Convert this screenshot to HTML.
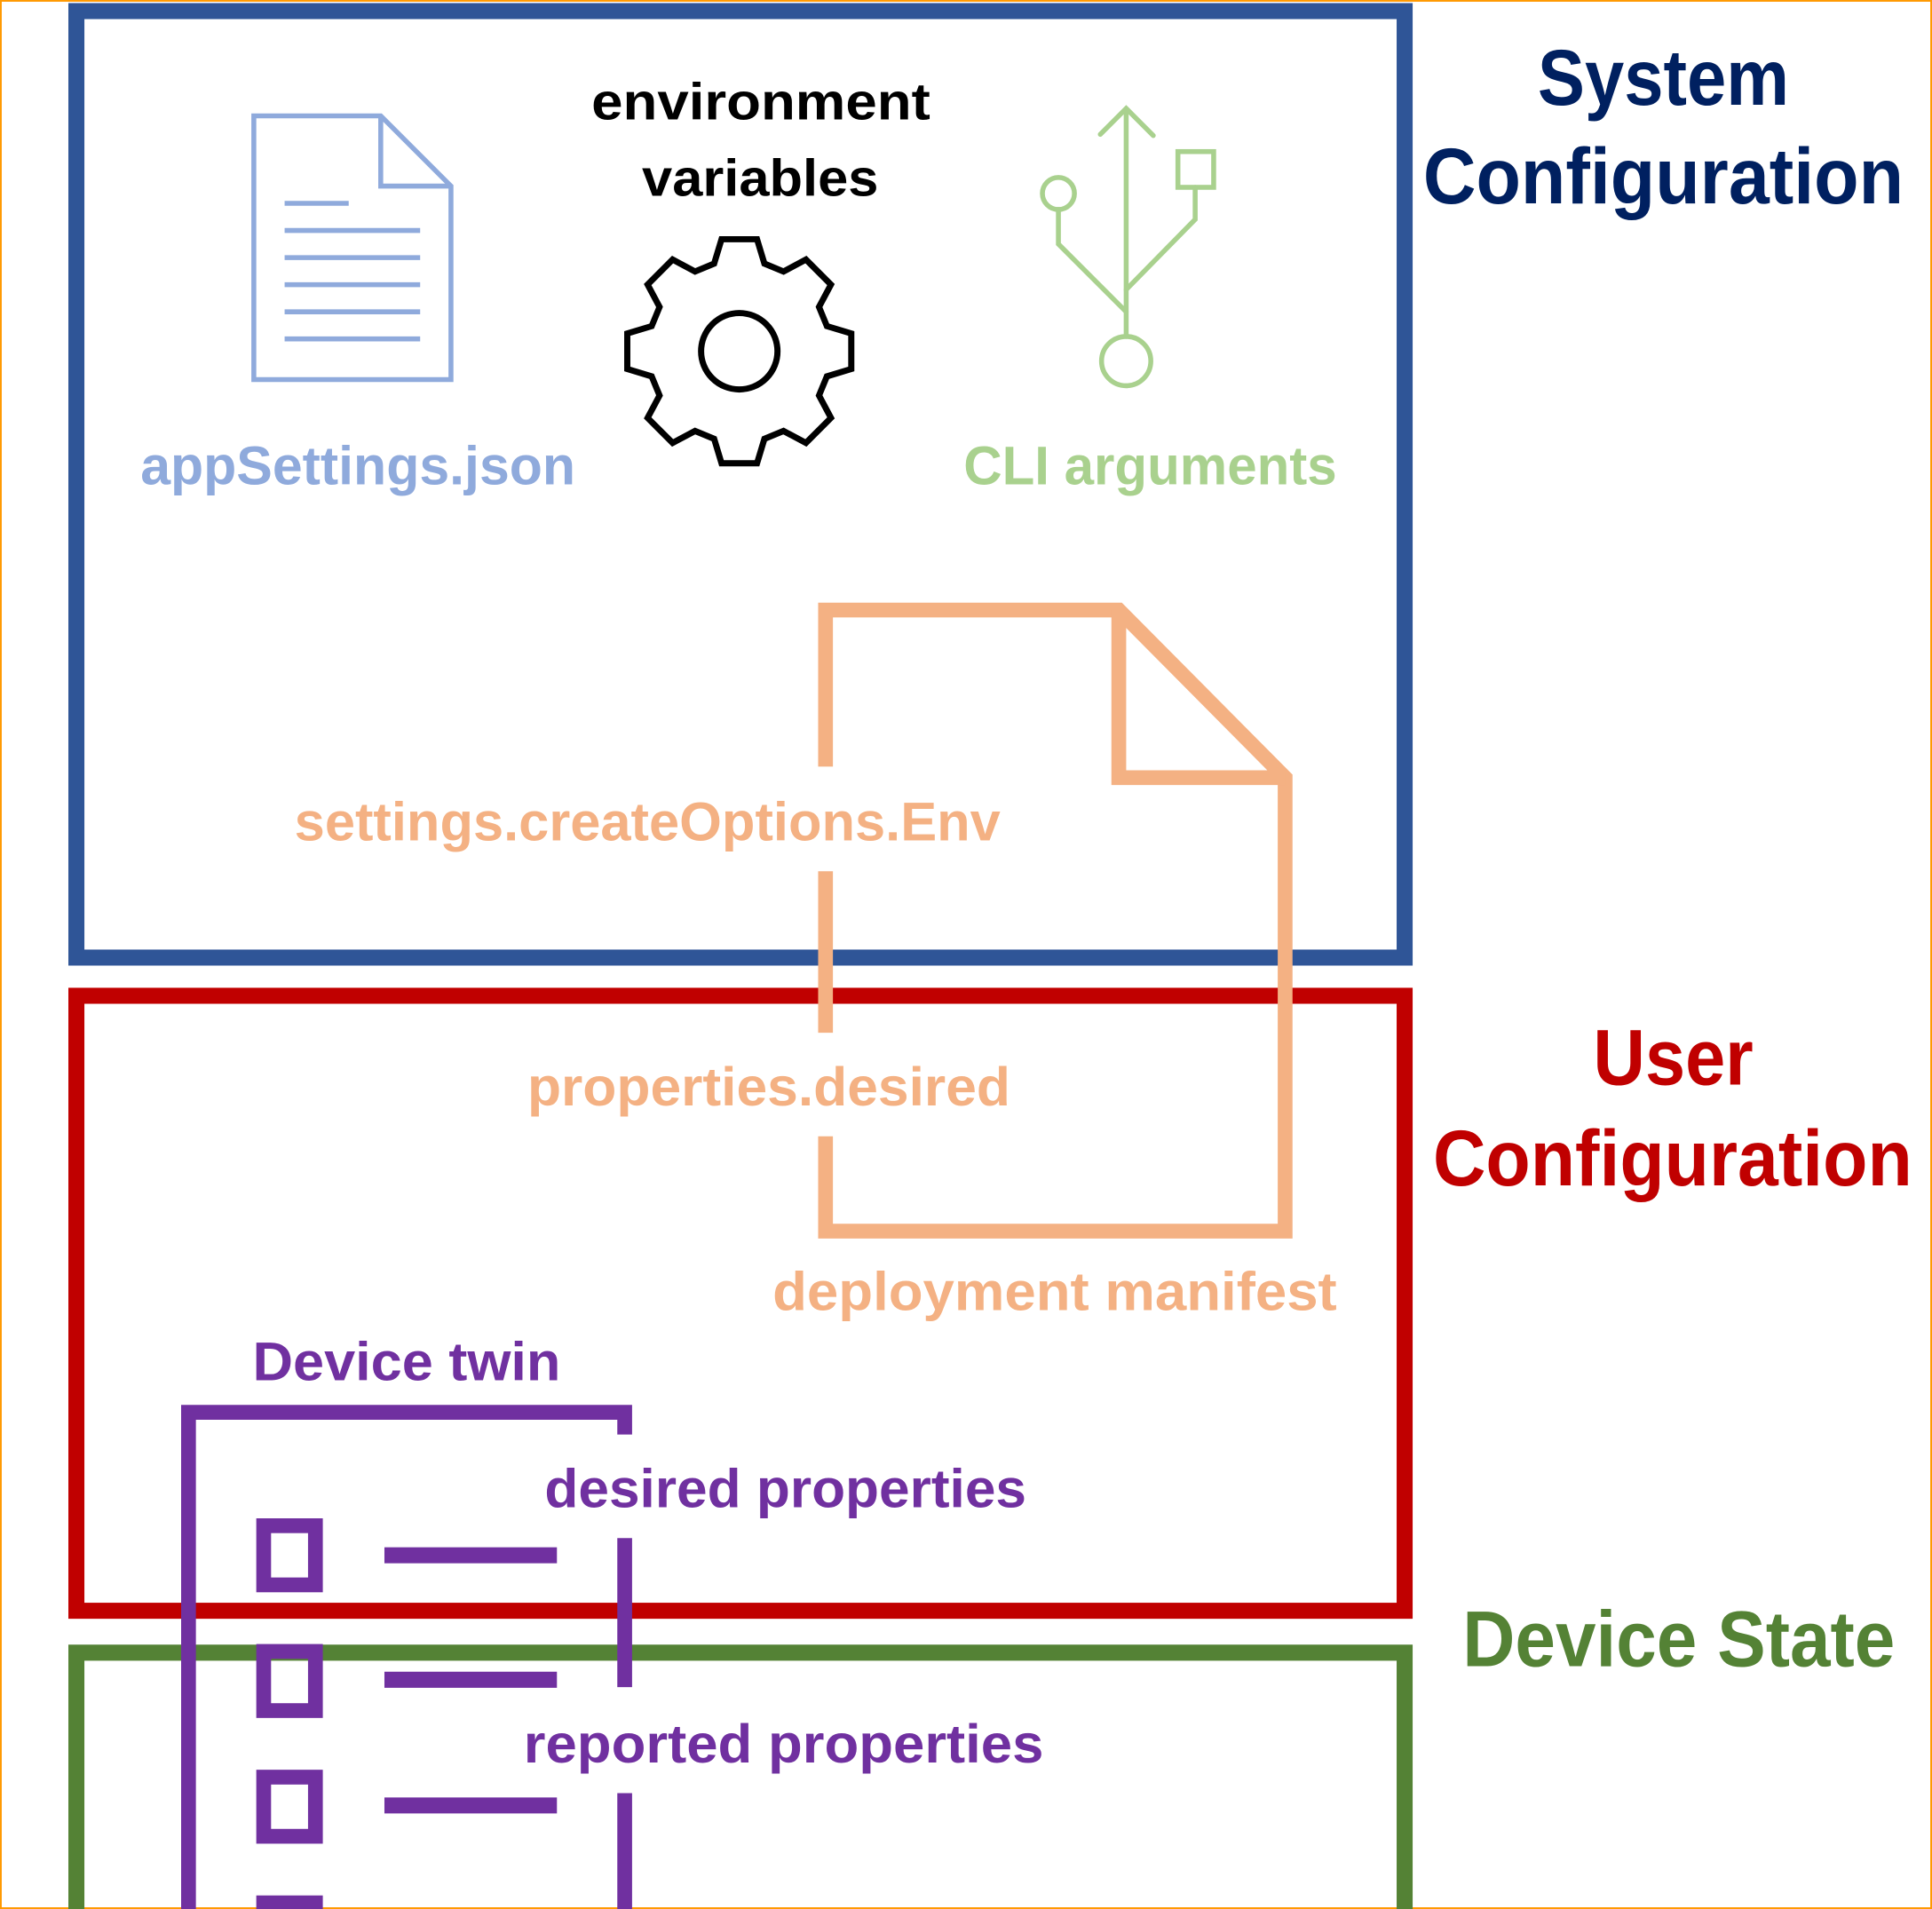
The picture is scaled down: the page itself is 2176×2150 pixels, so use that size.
<!DOCTYPE html>
<html><head><meta charset="utf-8"><style>
html,body{margin:0;padding:0;background:#fff;}
svg{display:block;}
text{font-family:"Liberation Sans",sans-serif;font-weight:bold;}
</style></head><body>
<svg width="2176" height="2150" viewBox="0 0 1568 1549" preserveAspectRatio="none" xmlns="http://www.w3.org/2000/svg">
<rect x="0.7" y="0.7" width="1566.6" height="1547.6" fill="none" stroke="#ff9900" stroke-width="1.4"/>
<!-- region boxes -->
<rect x="62" y="9" width="1078" height="768" fill="none" stroke="#2f5597" stroke-width="13"/>
<rect x="62" y="808" width="1078" height="499" fill="none" stroke="#c00000" stroke-width="13"/>
<path d="M62,1560 V1341 H1140 V1560" fill="none" stroke="#548235" stroke-width="13"/>

<!-- titles -->
<text x="1248" y="85" font-size="64" fill="#002060" textLength="204" lengthAdjust="spacingAndGlyphs">System</text>
<text x="1155" y="165" font-size="64" fill="#002060" textLength="390" lengthAdjust="spacingAndGlyphs">Configuration</text>
<text x="1293" y="880" font-size="64" fill="#c00000" textLength="130" lengthAdjust="spacingAndGlyphs">User</text>
<text x="1163" y="962" font-size="64" fill="#c00000" textLength="389" lengthAdjust="spacingAndGlyphs">Configuration</text>
<text x="1187" y="1352" font-size="64" fill="#548235" textLength="351" lengthAdjust="spacingAndGlyphs">Device State</text>

<!-- doc icon -->
<g fill="none" stroke="#8faadc" stroke-width="4">
<path d="M206,94 H309 L366,151 V308 H206 Z"/>
<path d="M309,94 V151 H366"/>
<path d="M231,165 H283 M231,187 H341 M231,209 H341 M231,231 H341 M231,253 H341 M231,275 H341"/>
</g>
<text x="114" y="393" font-size="44" fill="#8faadc" textLength="353" lengthAdjust="spacingAndGlyphs">appSettings.json</text>

<!-- env vars -->
<text x="480" y="97" font-size="42" fill="#000" textLength="275" lengthAdjust="spacingAndGlyphs">environment</text>
<text x="521" y="159" font-size="42" fill="#000" textLength="192" lengthAdjust="spacingAndGlyphs">variables</text>
<polygon fill="none" stroke="#000" stroke-width="5" stroke-linejoin="miter" points="579.6,213.9 585.6,194.1 614.4,194.1 620.4,213.9 635.9,220.3 654.1,210.6 674.4,230.9 664.7,249.1 671.1,264.6 690.9,270.6 690.9,299.4 671.1,305.4 664.7,320.9 674.4,339.1 654.1,359.4 635.9,349.7 620.4,356.1 614.4,375.9 585.6,375.9 579.6,356.1 564.1,349.7 545.9,359.4 525.6,339.1 535.3,320.9 528.9,305.4 509.1,299.4 509.1,270.6 528.9,264.6 535.3,249.1 525.6,230.9 545.9,210.6 564.1,220.3"/>
<circle cx="600" cy="285" r="31" fill="none" stroke="#000" stroke-width="5"/>

<!-- USB -->
<g fill="none" stroke="#a9d18e" stroke-width="4" stroke-linecap="round">
<path d="M914,90 V273"/>
<path d="M893,109 L914,88 L936,110"/>
<circle cx="859" cy="157" r="13"/>
<path d="M859,170 V198 L914,253"/>
<rect x="956" y="123" width="29" height="29" stroke-linecap="butt"/>
<path d="M970,152 V178 L914,235"/>
<circle cx="914" cy="293" r="20"/>
</g>
<text x="782" y="393" font-size="44" fill="#a9d18e" textLength="303" lengthAdjust="spacingAndGlyphs">CLI arguments</text>

<!-- orange manifest doc -->
<g fill="none" stroke="#f4b183" stroke-width="12">
<path d="M670,622 V495 H908 L1043,631 V999 H670 V922"/>
<path d="M670,707 V838"/>
<path d="M908,495 V631 H1043"/>
</g>
<text x="239" y="682" font-size="44" fill="#f4b183" textLength="573" lengthAdjust="spacingAndGlyphs">settings.createOptions.Env</text>
<text x="428" y="897" font-size="44" fill="#f4b183" textLength="392" lengthAdjust="spacingAndGlyphs">properties.desired</text>
<text x="627" y="1063" font-size="44" fill="#f4b183" textLength="458" lengthAdjust="spacingAndGlyphs">deployment manifest</text>

<!-- device twin -->
<text x="205" y="1120" font-size="44" fill="#7030a0" textLength="250" lengthAdjust="spacingAndGlyphs">Device twin</text>
<g fill="none" stroke="#7030a0" stroke-width="12">
<path d="M153,1560 V1146 H507 V1164"/>
<path d="M507,1248 V1369"/>
<path d="M507,1455 V1560"/>
<rect x="214" y="1238" width="42" height="48"/>
<rect x="214" y="1340" width="42" height="48"/>
<rect x="214" y="1442" width="42" height="48"/>
<rect x="214" y="1544" width="42" height="48"/>
</g>
<g stroke="#7030a0" stroke-width="13">
<path d="M312,1262 H452 M312,1363 H452 M312,1465 H452"/>
</g>
<text x="442" y="1223" font-size="44" fill="#7030a0" textLength="391" lengthAdjust="spacingAndGlyphs">desired properties</text>
<text x="425" y="1430" font-size="44" fill="#7030a0" textLength="422" lengthAdjust="spacingAndGlyphs">reported properties</text>
</svg>
</body></html>
